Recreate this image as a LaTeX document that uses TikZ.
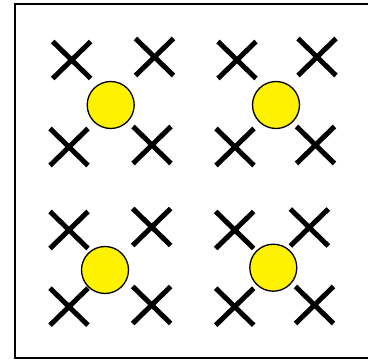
\documentclass[tikz,border=0pt]{standalone}
\usetikzlibrary{shapes.misc}
\begin{document}
\begin{tikzpicture}[x=1pt,y=-1pt,
  xmark/.style={cross out,draw=black,line width=5pt,minimum width=38pt,minimum height=37pt,inner sep=0pt,outer sep=0pt},
  ball/.style={circle,draw=black,line width=1.3pt,fill=yellow,minimum size=47pt,inner sep=0pt}]
\useasboundingbox (0,0) rectangle (368,361);
\draw[line width=2pt] (15,4) rectangle (380,358.5);
% group 1
\node[xmark] (a1) at (71.7,60) {};
\node[xmark] (a2) at (154.5,57) {};
\node[xmark] (a3) at (69,147) {};
\node[xmark] (a4) at (152,145) {};
\node[ball] (c1) at (110.7,105) {};
% group 2
\node[xmark] (b1) at (237,60) {};
\node[xmark] (b2) at (317,57) {};
\node[xmark] (b3) at (235,147) {};
\node[xmark] (b4) at (315.5,145) {};
\node[ball] (c2) at (276,105) {};
% group 3
\node[xmark] (d1) at (69,230) {};
\node[xmark] (d2) at (151.7,227) {};
\node[xmark] (d3) at (69,306.7) {};
\node[xmark] (d4) at (151.7,305) {};
\node[ball] (c3) at (105,270) {};
% group 4
\node[xmark] (e1) at (234.7,230) {};
\node[xmark] (e2) at (309.3,227.5) {};
\node[xmark] (e3) at (234.7,306.7) {};
\node[xmark] (e4) at (314.5,305) {};
\node[ball] (c4) at (273.3,267.7) {};
\end{tikzpicture}
\end{document}
